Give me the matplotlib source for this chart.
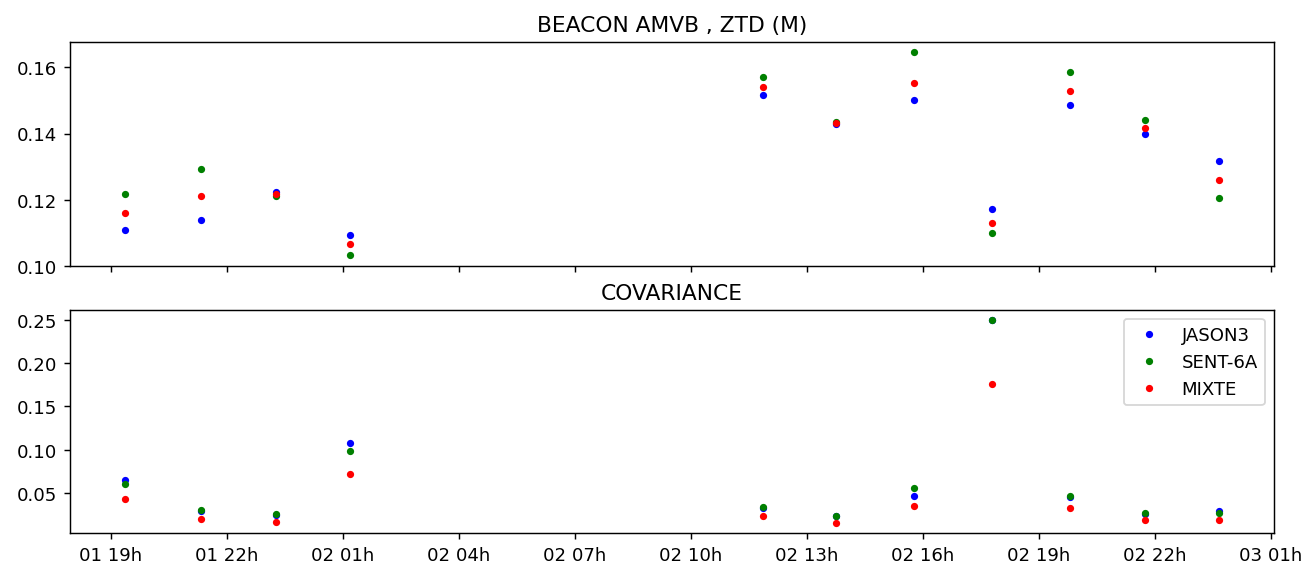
import matplotlib
matplotlib.use("Agg")
import matplotlib.pyplot as plt
import matplotlib.dates as mdates
import pandas as pd

# observation times
times = pd.to_datetime([
    "2023-01-01 19:22", "2023-01-01 21:21", "2023-01-01 23:17", "2023-01-02 01:12",
    "2023-01-02 11:52", "2023-01-02 13:45", "2023-01-02 15:46", "2023-01-02 17:47",
    "2023-01-02 19:49", "2023-01-02 21:45", "2023-01-02 23:40",
])

# ZTD (m)
ztd_jason3 = [0.1108, 0.1139, 0.1222, 0.1092, 0.1517, 0.1429, 0.1502, 0.1172, 0.1486, 0.1397, 0.1316]
ztd_sent6a = [0.1217, 0.1292, 0.1211, 0.1031, 0.1570, 0.1434, 0.1647, 0.1100, 0.1586, 0.1441, 0.1204]
ztd_mixte = [0.1160, 0.1211, 0.1218, 0.1066, 0.1542, 0.1433, 0.1554, 0.1128, 0.1530, 0.1417, 0.1260]

# covariance
cov_jason3 = [0.0654, 0.0300, 0.0252, 0.1079, 0.0335, 0.0232, 0.0466, 0.2495, 0.0462, 0.0262, 0.0290]
cov_sent6a = [0.0603, 0.0301, 0.0255, 0.0987, 0.0343, 0.0240, 0.0557, 0.2500, 0.0466, 0.0270, 0.0275]
cov_mixte = [0.0439, 0.0206, 0.0171, 0.0726, 0.0236, 0.0155, 0.0355, 0.1764, 0.0328, 0.0190, 0.0190]

fig, (ax1, ax2) = plt.subplots(2, 1, sharex=True, figsize=(10, 4.347), dpi=130.2)
fig.subplots_adjust(left=0.0538, right=0.9785, top=0.924, bottom=0.056, hspace=0.196)

ax1.plot(times, ztd_jason3, ".", color="b", label="JASON3")
ax1.plot(times, ztd_sent6a, ".", color="g", label="SENT-6A")
ax1.plot(times, ztd_mixte, ".", color="r", label="MIXTE")
ax1.set_title("BEACON AMVB , ZTD (M)")
ax1.set_ylim(0.09995, 0.1677)

ax2.plot(times, cov_jason3, ".", color="b", label="JASON3")
ax2.plot(times, cov_sent6a, ".", color="g", label="SENT-6A")
ax2.plot(times, cov_mixte, ".", color="r", label="MIXTE")
ax2.set_title("COVARIANCE")
ax2.legend(loc="upper right")

ax2.xaxis.set_major_locator(mdates.HourLocator(byhour=range(1, 24, 3)))
ax2.xaxis.set_major_formatter(mdates.DateFormatter("%d %Hh"))

fig.savefig("out.png", dpi=130.2)
plt.close(fig)
